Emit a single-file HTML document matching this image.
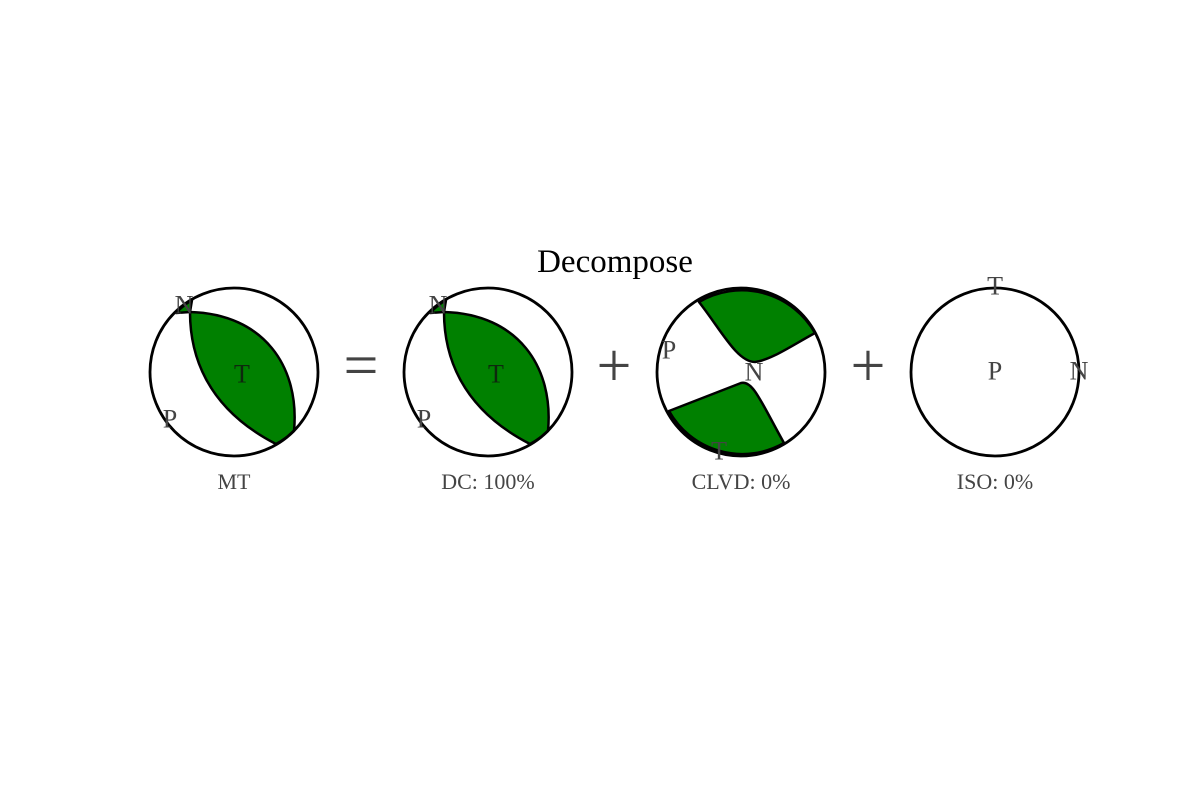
<!DOCTYPE html>
<html><head><meta charset="utf-8"><style>
html,body{margin:0;padding:0;background:#fff;}
svg{display:block;}
text{font-family:"Liberation Serif",serif;}
.lab{fill:#444;font-size:26px;text-anchor:middle;dominant-baseline:central;}
.lab.dk{fill:#111;fill-opacity:0.8;}
.cap{fill:#444;font-size:22px;text-anchor:middle;}
.sh{fill:#008000;stroke:#000;stroke-width:2.5;stroke-linejoin:round;}
.ring{fill:none;stroke:#000;stroke-width:2.8;}
.op{fill:#444;font-size:62px;text-anchor:middle;dominant-baseline:central;}
</style></head><body>
<svg width="1200" height="800" viewBox="0 0 1200 800">
<rect width="1200" height="800" fill="#fff"/>
<text x="615" y="272" font-size="33" text-anchor="middle" fill="#000">Decompose</text>

<g transform="translate(234,372)">
 <path class="sh" d="M -44,-60 L -58,-59 A84 84 0 0 1 -42,-72 Z"/>
 <path class="sh" d="M -44,-60 C -44,-20 -30,35 42,72 A84 84 0 0 0 60,59 C 66,-5 30,-58 -44,-60 Z"/>
 <circle class="ring" r="84"/>
 <text class="lab" x="-50" y="-67">N</text>
 <text class="lab dk" x="8" y="2">T</text>
 <text class="lab" x="-64" y="47">P</text>
</g>
<text class="cap" x="234" y="489">MT</text>

<text class="op" x="361" y="366">=</text>

<g transform="translate(488,372)">
 <path class="sh" d="M -44,-60 L -58,-59 A84 84 0 0 1 -42,-72 Z"/>
 <path class="sh" d="M -44,-60 C -44,-20 -30,35 42,72 A84 84 0 0 0 60,59 C 66,-5 30,-58 -44,-60 Z"/>
 <circle class="ring" r="84"/>
 <text class="lab" x="-50" y="-67">N</text>
 <text class="lab dk" x="8" y="2">T</text>
 <text class="lab" x="-64" y="47">P</text>
</g>
<text class="cap" x="488" y="489">DC: 100%</text>

<text class="op" x="614" y="366">+</text>

<g transform="translate(741,372)">
 <path class="sh" d="M -42,-70 C -20,-42 -4,-10 14,-10 C 30,-12 50,-26 74,-39 A84 84 0 0 0 -42,-70 Z"/>
 <path class="sh" d="M -72,39 L 0,11 C 12,8 20,30 43,71 A84 84 0 0 1 -72,39 Z"/>
 <circle class="ring" r="84"/>
 <text class="lab" x="-72" y="-22">P</text>
 <text class="lab" x="13" y="0">N</text>
 <text class="lab" x="-22" y="79">T</text>
</g>
<text class="cap" x="741" y="489">CLVD: 0%</text>

<text class="op" x="868" y="366">+</text>

<g transform="translate(995,372)">
 <circle class="ring" r="84"/>
 <text class="lab" x="0" y="-86">T</text>
 <text class="lab" x="0" y="-1">P</text>
 <text class="lab" x="84" y="-1">N</text>
</g>
<text class="cap" x="995" y="489">ISO: 0%</text>
</svg>
</body></html>
